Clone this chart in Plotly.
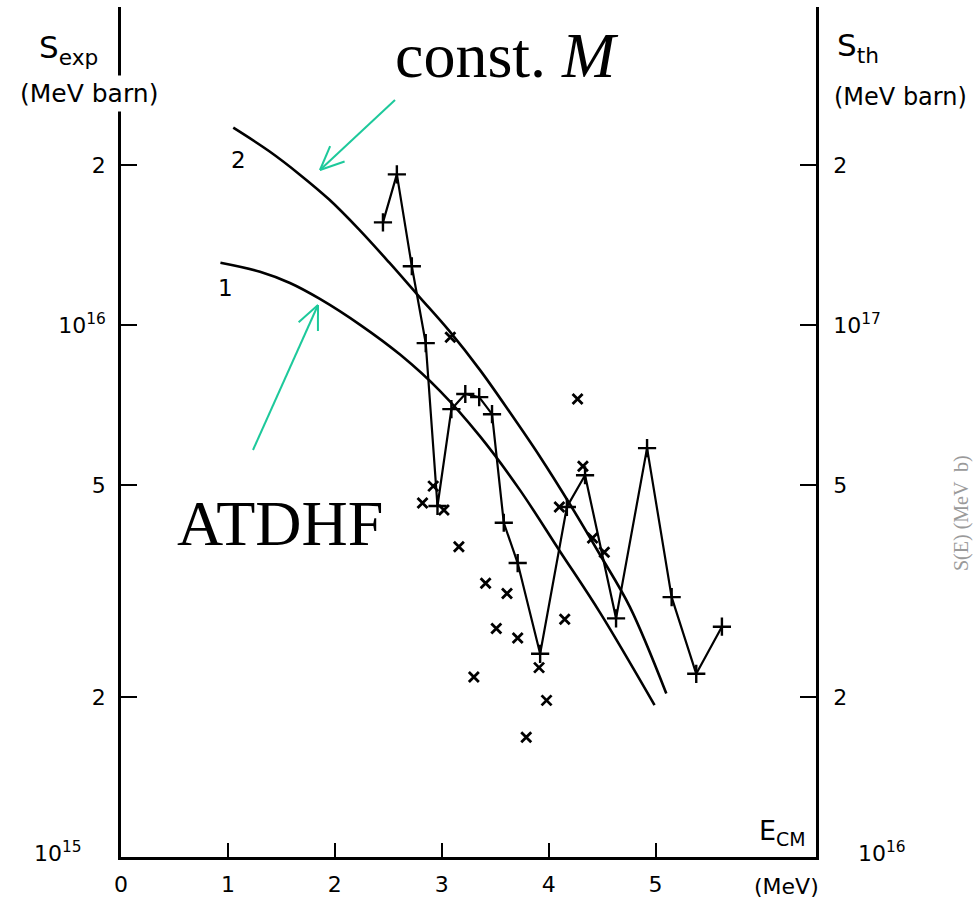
import math
import plotly.graph_objects as go

# ---------------- data ----------------
# curve 2 (const. M)
c2_x = [1.05, 1.39, 1.67, 1.95, 2.23, 2.51, 2.79, 3.07, 3.36, 3.64, 3.92, 4.20, 4.48, 4.76, 5.10]
c2_y = [2.35e16, 2.12e16, 1.92e16, 1.72e16, 1.51e16, 1.31e16, 1.13e16, 9.75e15, 8.22e15,
        6.84e15, 5.65e15, 4.60e15, 3.70e15, 2.95e15, 2.03e15]
# curve 1 (ATDHF)
c1_x = [0.93, 1.30, 1.58, 1.86, 2.24, 2.61, 2.98, 3.36, 3.73, 4.10, 4.48, 4.99]
c1_y = [1.31e16, 1.26e16, 1.20e16, 1.12e16, 1.00e16, 8.80e15, 7.53e15, 6.17e15, 4.90e15,
        3.77e15, 2.88e15, 1.93e15]
# experimental points joined by line (+)
p_x = [2.45, 2.58, 2.72, 2.85, 2.96, 3.09, 3.22, 3.35, 3.47, 3.58, 3.71, 3.92,
       4.17, 4.34, 4.63, 4.92, 5.15, 5.38, 5.62]
p_y = [1.56e16, 1.92e16, 1.29e16, 9.25e15, 4.57e15, 6.95e15, 7.42e15, 7.32e15,
       6.80e15, 4.25e15, 3.57e15, 2.41e15, 4.55e15, 5.22e15, 2.81e15, 5.87e15,
       3.08e15, 2.21e15, 2.71e15]
# experimental points (x)
x_x = [2.82, 2.92, 3.02, 3.08, 3.16, 3.30, 3.41, 3.61, 3.51, 3.71, 3.79, 3.91,
       3.98, 4.15, 4.10, 4.27, 4.32, 4.41, 4.52]
x_y = [4.63e15, 4.98e15, 4.49e15, 9.49e15, 3.83e15, 2.18e15, 3.27e15, 3.13e15,
       2.69e15, 2.58e15, 1.68e15, 2.27e15, 1.97e15, 2.80e15, 4.55e15, 7.26e15,
       5.43e15, 3.98e15, 3.74e15]

x_ticks = [0, 1, 2, 3, 4, 5]
x_ticktext = ["0", "1", "2", "3", "4", "5"]
yl_ticks = [2e15, 5e15, 1e16, 2e16]
yl_ticktext = ["2", "5", "10<sup>16</sup>", "2"]
yr_ticks = [2e16, 5e16, 1e17, 2e17]
yr_ticktext = ["2", "5", "10<sup>17</sup>", "2"]

# ---------------- layout geometry ----------------
W, H = 974, 903
L, R, T, B = 121, 816, 7, 857   # plot area in pixels


def px(x):
    return (x - L) / (R - L)


def py(y):
    return (B - y) / (B - T)


SANS = "DejaVu Sans"
SERIF = "Liberation Serif"
GREEN = "#1dc99b"
TICKFONT = dict(family=SANS, size=22, color="black")

fig = go.Figure()

fig.add_trace(go.Scatter(x=c2_x, y=c2_y, mode="lines", line=dict(color="black", width=2.6, shape="spline"),
                         showlegend=False, hoverinfo="skip"))
fig.add_trace(go.Scatter(x=c1_x, y=c1_y, mode="lines", line=dict(color="black", width=2.6, shape="spline"),
                         showlegend=False, hoverinfo="skip"))
fig.add_trace(go.Scatter(x=p_x, y=p_y, mode="lines+markers", line=dict(color="black", width=2.2),
                         marker=dict(symbol="cross-thin", size=13, line=dict(width=2.4, color="black")),
                         showlegend=False))
fig.add_trace(go.Scatter(x=x_x, y=x_y, mode="markers",
                         marker=dict(symbol="x-thin", size=10, line=dict(width=2.8, color="black")),
                         showlegend=False))
fig.add_trace(go.Scatter(x=[None], y=[None], yaxis="y2", showlegend=False, hoverinfo="skip"))

fig.update_layout(
    width=W, height=H,
    margin=dict(l=L, r=W - R, t=T, b=H - B, pad=0),
    paper_bgcolor="white", plot_bgcolor="white",
    showlegend=False,
    xaxis=dict(range=[0, 6.5], showgrid=False, zeroline=False, showline=True, linecolor="black",
               linewidth=2.5, ticks="inside", ticklen=14, tickwidth=2, tickcolor="black",
               tickvals=x_ticks, ticktext=x_ticktext, ticklabelstandoff=6, tickfont=TICKFONT),
    yaxis=dict(type="log", range=[15, 16.598], showgrid=False, zeroline=False, showline=True,
               linecolor="black", linewidth=2.5, ticks="inside", ticklen=16, tickwidth=2.2,
               tickcolor="black", tickvals=yl_ticks, ticktext=yl_ticktext, ticklabelstandoff=8,
               tickfont=TICKFONT),
    yaxis2=dict(type="log", range=[16, 17.598], overlaying="y", side="right", showgrid=False,
                zeroline=False, showline=True, linecolor="black", linewidth=2.5, ticks="inside",
                ticklen=16, tickwidth=2.2, tickcolor="black", tickvals=yr_ticks, ticktext=yr_ticktext,
                ticklabelstandoff=10, tickfont=TICKFONT),
)

ann = []


def text(x, y, s, size, family=SANS, color="black", xanchor="center", yanchor="middle", bg=None, angle=0):
    d = dict(x=px(x), y=py(y), xref="paper", yref="paper", text=s, showarrow=False,
             xanchor=xanchor, yanchor=yanchor, font=dict(family=family, size=size, color=color),
             textangle=angle)
    if bg:
        d["bgcolor"] = bg
        d["borderpad"] = 3
    ann.append(d)


# axis titles
text(68, 50, "S<sub>exp</sub>", 31)
text(89, 94, "(MeV barn)", 25, bg="white")
text(858, 48, "S<sub>th</sub>", 31)
text(900, 97, "(MeV barn)", 24)
text(782, 832, "E<sub>CM</sub>", 27)
text(786, 886, "(MeV)", 22)
# corner tick labels
text(58, 852, "10<sup>15</sup>", 22)
text(882, 852, "10<sup>16</sup>", 22)
# curve labels
text(238, 160, "2", 23)
text(225, 288, "1", 23)
# big labels
text(507, 56, "const. <i>M</i>", 64, family=SERIF)
text(280, 524, "ATDHF", 64, family=SERIF)
# stray grey text from neighbouring figure
text(961, 513, "S(E) (MeV  b)", 20, family=SERIF, color="#9a9a9a", angle=-90)

fig.update_layout(annotations=ann)

# green arrows (open V heads)
shapes = []


def arrow(x0, y0, x1, y1, arm=26, ang=24):
    shapes.append(dict(type="line", xref="paper", yref="paper", x0=px(x0), y0=py(y0), x1=px(x1), y1=py(y1),
                       line=dict(color=GREEN, width=2)))
    th = math.atan2(y0 - y1, x0 - x1)
    for s in (-1, 1):
        a = th + s * math.radians(ang)
        shapes.append(dict(type="line", xref="paper", yref="paper", x0=px(x1), y0=py(y1),
                           x1=px(x1 + arm * math.cos(a)), y1=py(y1 + arm * math.sin(a)),
                           line=dict(color=GREEN, width=2)))


arrow(395, 100, 320, 170)
arrow(253, 450, 318, 305)
fig.update_layout(shapes=shapes)

fig.write_html("out.html")
